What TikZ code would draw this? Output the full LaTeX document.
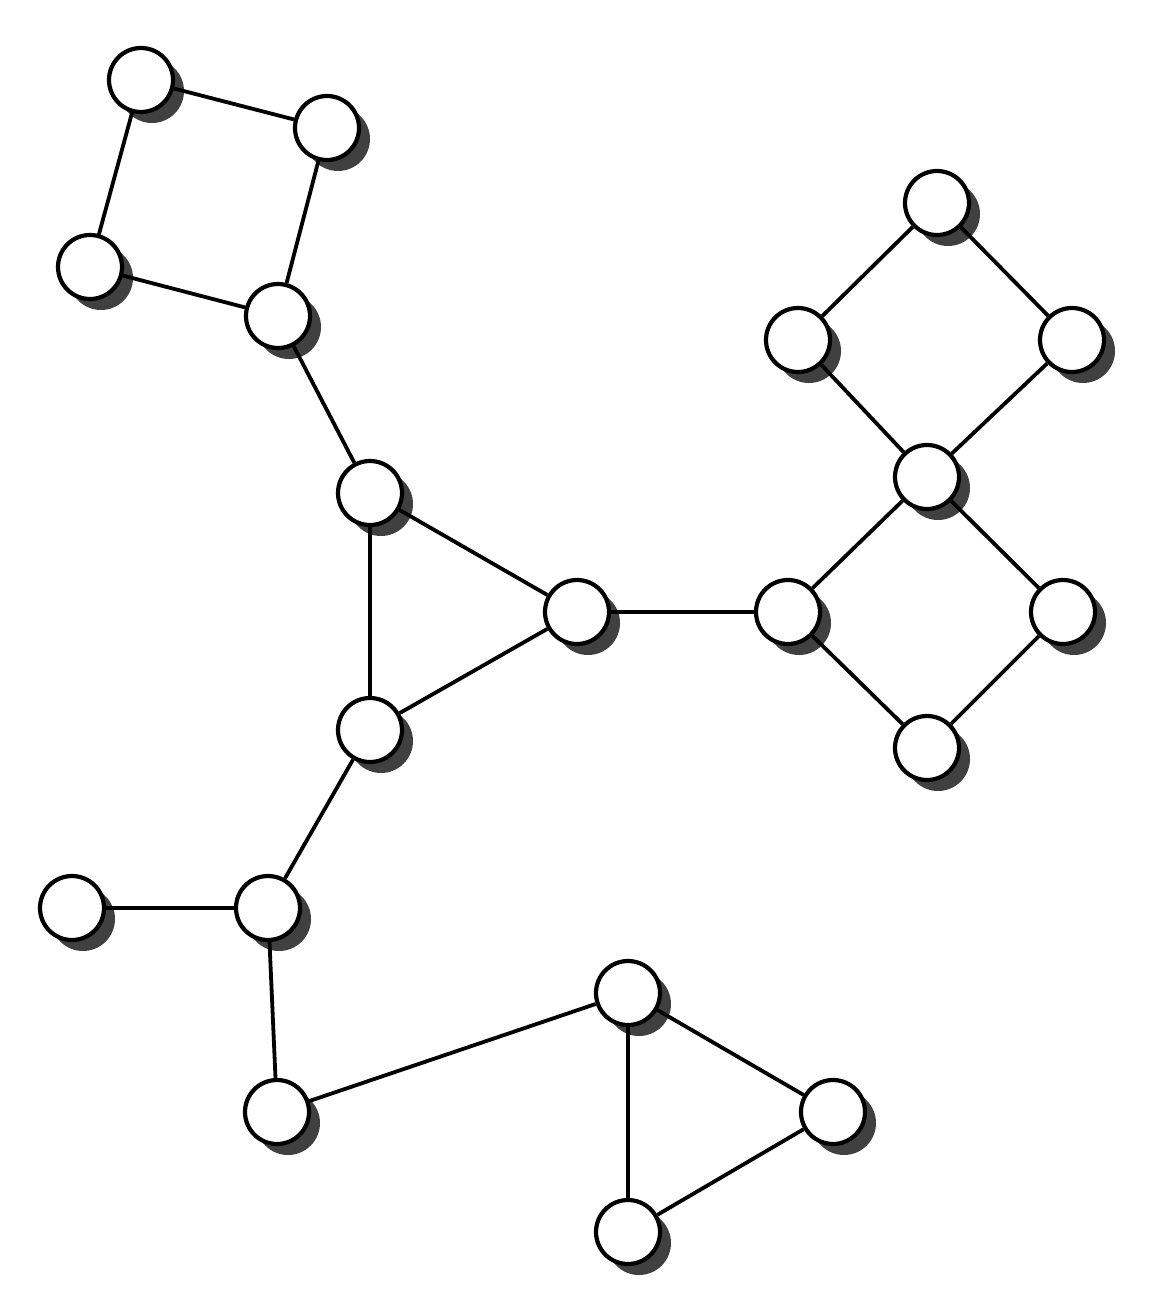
\documentclass[tikz,border=0pt]{standalone}
\usetikzlibrary{shadows}
\begin{document}
\begin{tikzpicture}[x=1pt,y=-1pt,
  vtx/.style={circle,draw=black,fill=white,line width=4.2pt,minimum size=64pt,inner sep=0pt,
    drop shadow={shadow xshift=11pt,shadow yshift=-11pt,fill=black!75,opacity=1}},
  lnk/.style={line width=3.8pt}]
\useasboundingbox (0,0) rectangle (1148,1300);
\node[vtx] (n1) at (141,80) {};
\node[vtx] (n2) at (327,128) {};
\node[vtx] (n3) at (90,267) {};
\node[vtx] (n4) at (278,316) {};
\node[vtx] (n5) at (370,493) {};
\node[vtx] (n6) at (577,612) {};
\node[vtx] (n7) at (370,730) {};
\node[vtx] (n8) at (788,612) {};
\node[vtx] (n9) at (937,203) {};
\node[vtx] (n10) at (798,340) {};
\node[vtx] (n11) at (1072,340) {};
\node[vtx] (n12) at (927,477) {};
\node[vtx] (n13) at (1063,612) {};
\node[vtx] (n14) at (927,748) {};
\node[vtx] (n15) at (72,908) {};
\node[vtx] (n16) at (268,908) {};
\node[vtx] (n17) at (277,1112) {};
\node[vtx] (n18) at (628,993) {};
\node[vtx] (n19) at (833,1112) {};
\node[vtx] (n20) at (628,1232) {};
\foreach \a/\b in {n1/n2,n1/n3,n2/n4,n3/n4,n4/n5,n5/n6,n5/n7,n6/n7,n6/n8,n9/n10,n9/n11,n10/n12,n11/n12,n12/n8,n12/n13,n8/n14,n13/n14,n7/n16,n15/n16,n16/n17,n17/n18,n18/n19,n18/n20,n19/n20}
  \draw[lnk] (\a) -- (\b);
\end{tikzpicture}
\end{document}
